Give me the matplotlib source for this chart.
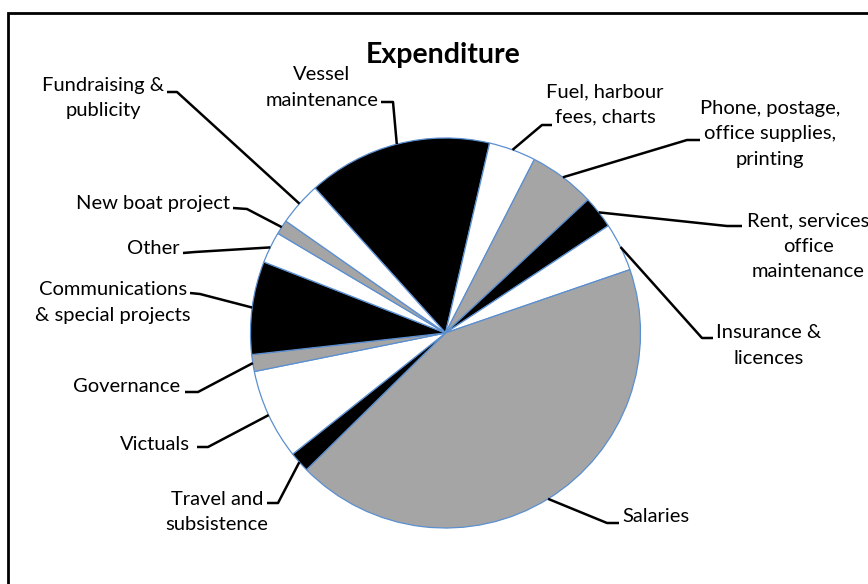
import numpy as np
import matplotlib
matplotlib.use("Agg")
import matplotlib.pyplot as plt
from matplotlib.patches import Rectangle

plt.rcParams['font.family'] = ['Lato', 'DejaVu Sans']

# ---------------- data ----------------
categories = ["Vessel maintenance", "Fuel, harbour fees, charts",
              "Phone, postage, office supplies, printing",
              "Rent, services office maintenance", "Insurance & licences",
              "Salaries", "Travel and subsistence", "Victuals", "Governance",
              "Communications & special projects", "Other", "New boat project",
              "Fundraising & publicity"]
display_labels = ["Vessel\nmaintenance", "Fuel, harbour\nfees, charts",
                  "Phone, postage,\noffice supplies,\nprinting",
                  "Rent, services\noffice\nmaintenance", "Insurance &\nlicences",
                  "Salaries", "Travel and\nsubsistence", "Victuals", "Governance",
                  "Communications\n& special projects", "Other", "New boat project",
                  "Fundraising &\npublicity"]
values = [15.3, 3.9, 5.5, 2.7, 4.0, 42.9, 1.7, 7.5, 1.4, 7.7, 2.6, 1.2, 3.6]
title = "Expenditure"

# ---------------- style / layout ----------------
BLACK, WHITE, GRAY = "#000000", "#ffffff", "#a5a5a5"
colors = [BLACK, WHITE, GRAY, BLACK, WHITE, GRAY, BLACK, WHITE, GRAY,
          BLACK, WHITE, GRAY, WHITE]
EDGE = "#5b8fd0"

W, H = 868, 584
def Y(y):  # pixel y (top-down) -> data y (bottom-up)
    return H - y

cx, cy, R = 445.5, Y(333), 195

# label layout in pixel coords: (text x, text y, ha, p0, p1)
layout = [
    (322, 87.5, "center", (381, 102), (393, 102)),
    (605, 104.5, "center", (552, 125), (542, 125)),
    (770, 134, "center", (700, 140), (687, 140)),
    (808, 246, "center", (742, 226), (727, 226)),
    (769, 345.5, "center", (713, 338), (702, 338)),
    (622, 516, "left", (619, 523), (607, 523)),
    (217, 512, "center", (267, 503), (278, 503)),
    (190, 444, "right", (197, 447), (208, 447)),
    (180, 386, "right", (185, 392), (198, 392)),
    (113, 302.5, "center", (190, 293), (200, 294)),
    (180, 248, "right", (183, 253), (195, 252)),
    (230, 204, "right", (233, 208), (247, 209)),
    (103, 98, "center", (167, 92), (177, 92)),
]

fig = plt.figure(figsize=(W / 100, H / 100), dpi=100)
ax = fig.add_axes([0, 0, 1, 1])

wedges, _ = ax.pie(values, colors=colors, startangle=132, counterclock=False,
                   center=(cx, cy), radius=R,
                   wedgeprops=dict(edgecolor=EDGE, linewidth=0.9))

ax.set_xlim(0, W)
ax.set_ylim(0, H)
ax.set_aspect('auto')
ax.axis('off')

for w, lab, (tx, ty, ha, p0, p1) in zip(wedges, display_labels, layout):
    mid = np.deg2rad((w.theta1 + w.theta2) / 2)
    ex, ey = cx + R * np.cos(mid), cy + R * np.sin(mid)
    ax.plot([p0[0], p1[0], ex], [Y(p0[1]), Y(p1[1]), ey], color="black",
            lw=1.8, solid_capstyle="butt", zorder=5)
    ax.text(tx, Y(ty), lab, ha=ha, va="center", fontsize=14.5, linespacing=1.6,
            color="black", zorder=6)

ax.text(443, Y(55), title, ha="center", va="center", fontsize=20.5,
        fontweight="bold", color="black")

# outer frame (only top and left edges visible in the crop)
ax.add_patch(Rectangle((7.5, Y(590)), 900, 590 - 12.5, fill=False,
                       edgecolor="black", lw=2, clip_on=False, zorder=10))

fig.savefig("out.png", dpi=100)
